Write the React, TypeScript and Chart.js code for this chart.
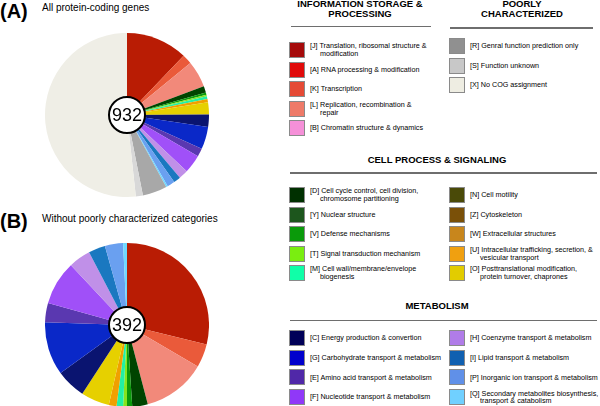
import React, { useEffect, useRef } from 'react';
import { Chart, registerables } from 'chart.js';

Chart.register(...registerables);

// ---- Data ----
const cogCodes = ['J', 'A', 'K', 'L', 'B', 'D', 'Y', 'V', 'T', 'M', 'N', 'Z', 'W', 'U', 'O', 'C', 'G', 'E', 'F', 'H', 'I', 'P', 'Q', 'R', 'S', 'X'];
const geneCounts = [113, 0, 18, 49, 0, 12, 0, 4, 3, 5, 0, 0, 0, 6, 22, 23, 41, 15, 34, 17, 13, 14, 3, 45, 13, 482];
const poorlyCodes = ['R', 'S', 'X'];
const totalAll = 932;
const totalClassified = 392;

const pieColors: Record<string, string> = {
  J: '#b91c04', A: '#e00a0a', K: '#ea5a3a', L: '#f2897a', B: '#f590d8',
  D: '#004400', Y: '#1d561d', V: '#0a9a0a', T: '#86e41e', M: '#22f0a4',
  N: '#4a4a08', Z: '#7a5008', W: '#c8861c', U: '#f0a000', O: '#e6d000',
  C: '#0a1470', G: '#0a28c8', E: '#5a38b0', F: '#a050f8', H: '#c090e8',
  I: '#1a78c0', P: '#6aa0f0', Q: '#70d8ff', R: '#a8a8a8', S: '#d8d8d8', X: '#efeee6',
};
const legendColors: Record<string, string> = {
  J: '#a50a0a', A: '#e00a0a', K: '#e54a35', L: '#ee7a68', B: '#f590d8',
  D: '#003000', Y: '#1d561d', V: '#0a9a0a', T: '#7aee10', M: '#10ffa8',
  N: '#4a4a08', Z: '#7a5008', W: '#c8861c', U: '#f0a010', O: '#e2cc00',
  C: '#000058', G: '#0000cc', E: '#5028a8', F: '#9038f8', H: '#b07ce8',
  I: '#1060b0', P: '#6090e8', Q: '#70d0ff', R: '#909090', S: '#c8c8c8', X: '#eeede2',
};
const legendLabels: Record<string, string[]> = {
  J: ['[J] Translation, ribosomal structure &', 'modification'],
  A: ['[A] RNA processing & modification'],
  K: ['[K] Transcription'],
  L: ['[L] Replication, recombination &', 'repair'],
  B: ['[B] Chromatin structure & dynamics'],
  R: ['[R] Genral function prediction only'],
  S: ['[S] Function unknown'],
  X: ['[X] No COG assignment'],
  D: ['[D] Cell cycle control, cell division,', 'chromosome partitioning'],
  Y: ['[Y] Nuclear structure'],
  V: ['[V] Defense mechanisms'],
  T: ['[T] Signal transduction mechanism'],
  M: ['[M] Cell wall/membrane/envelope', 'biogenesis'],
  N: ['[N] Cell motility'],
  Z: ['[Z] Cytoskeleton'],
  W: ['[W] Extracellular structures'],
  U: ['[U] Intracellular trafficking, secretion, &', 'vesicular transport'],
  O: ['[O] Posttranslational modification,', 'protein turnover, chaprones'],
  C: ['[C] Energy production & convertion'],
  G: ['[G] Carbohydrate transport & metabolism'],
  E: ['[E] Amino acid transport & metabolism'],
  F: ['[F] Nucleotide transport & metabolism'],
  H: ['[H] Coenzyme transport & metabolism'],
  I: ['[I]  Lipid transport & metabolism'],
  P: ['[P] Inorganic ion transport & metabolism'],
  Q: ['[Q] Secondary metabolites biosynthesis,', 'transport & catabolism'],
};
const infoCodes = ['J', 'A', 'K', 'L', 'B'];
const cellLeftCodes = ['D', 'Y', 'V', 'T', 'M'];
const cellRightCodes = ['N', 'Z', 'W', 'U', 'O'];
const metaLeftCodes = ['C', 'G', 'E', 'F'];
const metaRightCodes = ['H', 'I', 'P', 'Q'];

const FONT = '"Liberation Sans", Arial, Helvetica, sans-serif';

function PieChart({ codes, total, left, top, size }: { codes: string[]; total: number; left: number; top: number; size: number }) {
  const ref = useRef<HTMLCanvasElement | null>(null);
  useEffect(() => {
    if (!ref.current) return;
    const values = codes.map((c) => geneCounts[cogCodes.indexOf(c)]);
    const centerLabel = {
      id: 'centerLabel',
      afterDraw(chart: any) {
        const { ctx, chartArea } = chart;
        const cx = (chartArea.left + chartArea.right) / 2;
        const cy = (chartArea.top + chartArea.bottom) / 2;
        ctx.save();
        ctx.beginPath();
        ctx.arc(cx, cy, 18, 0, Math.PI * 2);
        ctx.fillStyle = '#ffffff';
        ctx.fill();
        ctx.lineWidth = 2;
        ctx.strokeStyle = '#000000';
        ctx.stroke();
        ctx.fillStyle = '#000000';
        ctx.font = `18px ${FONT}`;
        ctx.textAlign = 'center';
        ctx.textBaseline = 'middle';
        ctx.fillText(String(total), cx, cy + 1);
        ctx.restore();
      },
    };
    const chart = new Chart(ref.current, {
      type: 'pie',
      data: {
        labels: codes,
        datasets: [{ data: values, backgroundColor: codes.map((c) => pieColors[c]), borderWidth: 0 }],
      },
      options: {
        responsive: false,
        animation: false,
        events: [],
        layout: { padding: 0 },
        plugins: { legend: { display: false }, tooltip: { enabled: false } },
      },
      plugins: [centerLabel],
    });
    return () => chart.destroy();
  }, []);
  return <canvas ref={ref} width={size} height={size} style={{ position: 'absolute', left, top, width: size, height: size }} />;
}

function LegendItem({ code, x, y }: { code: string; x: number; y: number }) {
  const lines = legendLabels[code];
  return (
    <div style={{ position: 'absolute', left: x, top: y, height: 16, display: 'flex', alignItems: 'center' }}>
      <div style={{ width: 14, height: 14, background: legendColors[code], border: '1px solid #8a8a8a', flex: 'none' }} />
      <div style={{ marginLeft: 5, fontFamily: FONT, fontSize: 7.2, lineHeight: '7.6px', color: '#000', whiteSpace: 'nowrap' }}>
        {lines.map((l, i) => (
          <div key={i} style={{ paddingLeft: i > 0 ? 10 : 0 }}>{l}</div>
        ))}
      </div>
    </div>
  );
}

function Header({ lines, cx, top }: { lines: string[]; cx: number; top: number }) {
  return (
    <div style={{ position: 'absolute', left: cx - 100, width: 200, top, textAlign: 'center', fontFamily: FONT, fontWeight: 'bold', fontSize: 9.5, lineHeight: '10.3px', color: '#000' }}>
      {lines.map((l, i) => (<div key={i}>{l}</div>))}
    </div>
  );
}

function Rule({ x1, x2, y }: { x1: number; x2: number; y: number }) {
  return <div style={{ position: 'absolute', left: x1, top: y, width: x2 - x1, height: 1.5, background: '#6e6e6e' }} />;
}

export default function App() {
  const classified = cogCodes.filter((c) => !poorlyCodes.includes(c));
  return (
    <div style={{ position: 'fixed', left: 0, top: 0, width: 600, height: 406, background: '#fff', overflow: 'hidden' }}>
      <div style={{ position: 'absolute', left: 0, top: 1, fontFamily: FONT, fontWeight: 'bold', fontSize: 20, lineHeight: '20px' }}>(A)</div>
      <div style={{ position: 'absolute', left: 42, top: 3, fontFamily: FONT, fontSize: 10, lineHeight: '10px' }}>All protein-coding genes</div>
      <PieChart codes={cogCodes} total={totalAll} left={45} top={33} size={164} />

      <div style={{ position: 'absolute', left: 0, top: 211, fontFamily: FONT, fontWeight: 'bold', fontSize: 20, lineHeight: '20px' }}>(B)</div>
      <div style={{ position: 'absolute', left: 42, top: 214, fontFamily: FONT, fontSize: 10, lineHeight: '10px' }}>Without poorly characterized categories</div>
      <PieChart codes={classified} total={totalClassified} left={45} top={243} size={164} />

      <Header lines={['INFORMATION STORAGE &', 'PROCESSING']} cx={360} top={-1.5} />
      <Rule x1={291} x2={431} y={25.5} />
      {infoCodes.map((c, i) => (<LegendItem key={c} code={c} x={289} y={42 + i * 19.5} />))}

      <Header lines={['POORLY', 'CHARACTERIZED']} cx={522} top={-1.5} />
      <Rule x1={450} x2={593} y={27} />
      {poorlyCodes.map((c, i) => (<LegendItem key={c} code={c} x={449} y={38 + i * 19.5} />))}

      <Header lines={['CELL PROCESS & SIGNALING']} cx={437} top={155} />
      <Rule x1={290} x2={597} y={172} />
      {cellLeftCodes.map((c, i) => (<LegendItem key={c} code={c} x={289} y={187 + i * 19.5} />))}
      {cellRightCodes.map((c, i) => (<LegendItem key={c} code={c} x={449} y={187 + i * 19.5} />))}

      <Header lines={['METABOLISM']} cx={437} top={301} />
      <Rule x1={290} x2={597} y={319.5} />
      {metaLeftCodes.map((c, i) => (<LegendItem key={c} code={c} x={289} y={330 + i * 19.7} />))}
      {metaRightCodes.map((c, i) => (<LegendItem key={c} code={c} x={449} y={330 + i * 19.7} />))}
    </div>
  );
}
